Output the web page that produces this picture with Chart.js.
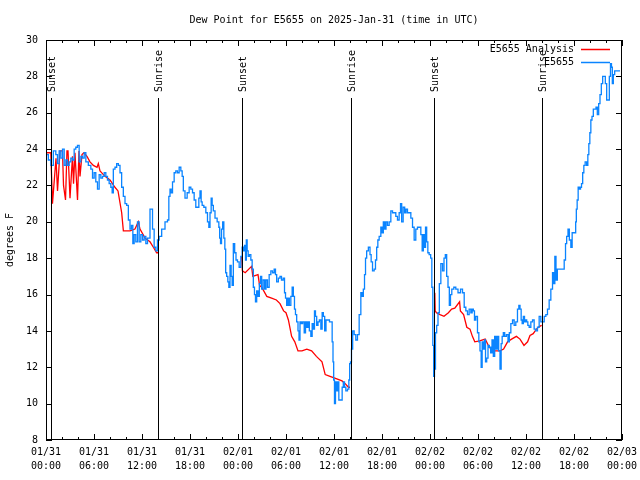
<!DOCTYPE html>
<html>
<head>
<meta charset="utf-8">
<script src="https://cdn.jsdelivr.net/npm/chart.js@4"></script>
<style>
  html, body { margin: 0; padding: 0; background: #fff; }
</style>
</head>
<body>
<canvas id="dew" width="640" height="480"></canvas>
<script>
// hours since 01/31 00:00 UTC
const obsHours = [
  0.08,0.5,0.71,1.12,1.33,1.54,1.75,1.96,2.17,2.38,2.58,2.79,3.0,3.21,3.42,3.62,3.83,4.04,4.25,4.46,4.67,4.88,5.08,5.5,5.71,5.92,
  6.12,6.33,6.54,6.75,6.96,7.17,7.38,7.58,7.79,8.0,8.21,8.33,8.5,8.75,8.92,9.17,9.33,9.58,9.75,10.0,10.17,10.42,10.58,10.79,10.92,
  11.12,11.33,11.54,11.75,11.96,12.17,12.38,12.58,12.79,13.21,13.42,13.62,13.83,14.04,14.25,14.67,15.08,15.29,15.42,15.58,15.71,
  15.92,16.12,16.33,16.54,16.75,16.96,17.08,17.25,17.5,17.79,18.0,18.21,18.42,18.62,18.83,19.04,19.17,19.33,19.46,19.58,19.88,
  20.08,20.29,20.42,20.58,20.71,20.83,21.0,21.25,21.54,21.67,21.75,21.88,22.0,22.17,22.29,22.42,22.5,22.67,22.79,22.92,23.08,
  23.21,23.33,23.5,23.67,23.83,24.04,24.25,24.46,24.58,24.75,24.88,25.0,25.08,25.21,25.33,25.5,25.71,25.83,26.0,26.12,26.25,
  26.42,26.58,26.75,26.88,27.04,27.25,27.42,27.58,27.79,28.0,28.21,28.42,28.62,28.75,28.92,29.17,29.33,29.54,29.75,29.88,30.0,
  30.17,30.33,30.5,30.71,30.83,31.0,31.12,31.25,31.42,31.58,31.67,31.83,32.0,32.17,32.38,32.5,32.67,32.83,33.0,33.21,33.33,33.5,
  33.62,33.75,33.92,34.08,34.25,34.46,34.58,34.75,34.92,35.08,35.29,35.58,35.71,35.83,35.92,36.0,36.12,36.25,36.42,36.54,36.67,
  36.96,37.08,37.25,37.38,37.58,37.79,37.92,38.0,38.12,38.25,38.42,38.62,38.83,39.04,39.25,39.46,39.58,39.75,39.88,40.0,40.17,
  40.42,40.58,40.71,40.92,41.12,41.25,41.42,41.54,41.75,41.96,42.08,42.25,42.42,42.58,42.79,43.0,43.21,43.42,43.62,43.83,44.04,
  44.25,44.38,44.54,44.75,44.92,45.08,45.29,45.5,45.71,45.92,46.12,46.33,46.54,46.75,46.96,47.08,47.25,47.38,47.5,47.67,47.79,
  48.0,48.17,48.29,48.42,48.5,48.62,48.75,48.92,49.08,49.25,49.46,49.67,49.83,50.0,50.17,50.33,50.5,50.62,50.83,51.12,51.33,
  51.67,51.96,52.17,52.38,52.58,52.79,53.0,53.21,53.33,53.5,53.62,53.83,54.04,54.17,54.33,54.46,54.58,54.75,54.88,55.0,55.17,
  55.33,55.5,55.67,55.83,56.0,56.17,56.33,56.5,56.67,56.83,56.96,57.08,57.25,57.42,57.67,57.83,58.0,58.21,58.42,58.62,58.83,
  59.04,59.17,59.33,59.46,59.58,59.75,59.88,60.0,60.17,60.29,60.5,60.71,60.92,61.12,61.33,61.54,61.75,61.96,62.17,62.38,62.58,
  62.79,63.0,63.21,63.42,63.54,63.67,63.83,64.0,64.17,64.46,64.67,64.88,65.0,65.17,65.33,65.5,65.71,65.83,66.17,66.25,66.33,
  66.46,66.58,66.75,66.88,67.0,67.17,67.29,67.5,67.67,67.79,67.92,68.04,68.17,68.33,68.5,68.67,68.83,69.0,69.17,69.33,69.5,
  69.67,69.83,70.0,70.17,70.33,70.5,70.62,70.75,70.83,71.0,71.17,71.42,71.75
];
const obsDew = [
  23.7,23.4,23.1,23.9,23.7,23.2,23.9,23.5,24.0,23.1,23.4,23.1,23.3,23.5,23.4,24.0,24.1,24.2,23.3,23.6,23.5,23.8,23.3,23.1,22.9,22.4,
  22.7,22.2,21.8,22.6,22.4,22.5,22.7,22.5,22.3,22.1,21.9,21.6,22.9,23.0,23.2,23.1,22.7,21.9,21.4,21.0,20.9,20.1,19.6,19.8,18.8,
  19.3,18.9,20.0,18.9,19.3,19.0,19.2,18.8,19.1,20.7,19.6,18.6,18.4,19.0,19.2,19.6,20.0,20.1,21.4,21.8,21.6,
  22.2,22.7,22.8,22.7,23.0,22.8,22.5,21.7,21.3,21.6,21.9,21.8,21.6,21.2,20.8,20.8,21.3,21.7,21.1,20.9,20.8,
  20.5,20.0,19.7,20.5,21.3,20.9,20.6,20.2,20.0,19.7,19.1,18.8,19.6,20.0,19.1,18.5,17.2,17.0,16.7,16.4,17.6,
  17.0,16.5,18.8,18.3,17.9,17.8,17.5,18.1,18.6,18.4,18.7,17.9,19.0,18.4,18.1,18.2,17.9,17.4,16.4,16.0,15.6,
  16.2,15.9,16.6,17.0,16.3,16.8,16.3,16.8,16.4,17.1,17.3,17.2,17.4,17.1,16.7,16.9,17.0,16.8,16.9,16.1,15.8,
  15.4,15.8,15.4,15.9,16.4,15.9,15.2,14.9,14.5,14.0,13.5,14.5,14.4,14.5,13.9,14.5,14.2,14.5,14.0,13.7,14.4,14.1,
  15.1,14.8,14.3,14.5,14.6,14.1,15.0,14.8,14.0,14.6,14.6,14.5,14.5,13.4,12.3,11.3,10.0,11.2,10.7,11.2,10.2,
  10.2,10.9,11.2,10.9,10.7,10.8,11.3,12.2,12.3,13.0,14.0,13.8,13.5,13.8,14.9,16.1,15.9,16.3,17.1,18.0,18.4,
  18.6,18.2,17.8,17.3,17.4,17.9,18.6,19.0,19.2,19.7,19.4,20.0,19.6,20.0,19.8,20.0,20.6,20.5,20.5,20.3,20.1,
  20.5,21.0,20.0,20.8,20.5,20.7,20.5,20.5,20.2,19.7,19.0,19.6,19.7,19.7,19.3,18.4,19.3,18.6,19.7,18.9,18.3,
  18.2,18.0,16.4,13.2,11.5,11.9,13.9,14.3,15.0,16.6,17.7,17.3,18.0,18.2,17.0,16.4,15.4,16.0,16.3,16.4,16.3,
  16.1,16.3,16.1,15.3,15.1,14.9,15.2,15.0,15.2,15.1,14.6,14.8,13.9,13.4,12.9,12.0,13.4,13.0,13.5,12.3,12.5,
  13.2,13.1,12.8,13.5,12.6,13.7,13.0,13.7,12.9,11.9,13.3,13.7,13.9,13.7,13.8,13.4,13.9,14.4,14.6,14.3,14.5,
  15.2,15.4,15.2,14.6,14.4,14.8,14.5,14.6,14.5,14.3,14.2,14.5,14.6,14.1,14.0,14.2,14.8,14.5,14.5,14.8,14.9,
  15.2,15.7,16.3,17.2,16.6,18.1,16.8,17.4,17.4,17.4,17.4,17.9,18.8,19.2,19.6,19.0,18.6,19.4,19.4,20.0,20.7,
  21.2,21.9,21.8,21.9,22.1,22.7,23.1,23.3,23.1,23.7,24.3,24.9,25.6,25.8,26.2,26.2,26.3,25.9,26.5,27.0,27.6,
  28.0,28.0,27.6,26.7,26.7,28.0,28.7,28.5,27.6,28.1,28.3,28.3,28.3
];

// analysis only runs overnight; null breaks the line between nights
const anaHours = [
  0.1,0.6,0.81,1.25,1.44,1.75,2.06,2.19,2.44,2.62,2.75,3.0,3.31,3.44,3.62,3.94,4.12,4.25,4.5,4.75,5.12,5.5,5.92,6.38,6.54,6.75,
  7.38,8.0,8.62,9.0,9.46,9.67,10.5,11.12,11.54,11.75,12.38,13.0,13.42,13.83,14.0,14.5,
  24.45,24.55,24.9,25.7,25.85,26.5,26.7,26.96,27.6,28.2,28.8,29.25,29.7,30.0,30.3,30.7,31.1,31.5,32.0,32.6,33.2,33.8,34.5,34.9,
  35.5,36.1,37.0,37.4,37.8,38.0,38.5,
  48.6,48.65,48.8,49.25,49.75,50.3,50.7,51.1,51.7,51.8,52.2,52.6,53.0,53.3,53.6,54.2,54.9,55.3,55.6,56.1,56.75,57.2,57.7,58.2,
  58.8,59.25,59.75,60.2,60.5,60.9,61.3,61.7,61.96
];
const anaDew = [
  23.8,23.8,21.0,23.5,21.7,23.9,23.9,22.0,21.2,23.9,23.9,21.3,23.6,22.1,23.8,21.2,23.9,22.5,23.7,23.8,23.6,23.3,23.1,23.0,23.2,22.8,
  22.5,22.3,21.9,21.7,20.5,19.5,19.5,19.6,20.0,19.6,19.1,18.9,18.6,18.3,18.3,null,
  18.1,17.3,17.2,17.55,17.0,17.1,16.5,16.4,15.9,15.8,15.7,15.5,15.1,15.0,14.6,13.7,13.4,12.9,12.9,13.0,12.9,12.6,12.3,11.6,
  11.5,11.4,11.25,11.1,10.9,10.9,null,
  16.1,15.1,15.0,14.9,14.8,15.0,15.2,15.25,15.6,15.1,14.9,14.2,14.1,13.7,13.4,13.45,13.55,13.2,13.0,12.9,12.9,13.0,13.4,13.55,
  13.7,13.55,13.2,13.4,13.75,13.85,14.1,14.25,14.3
];

const sunHours = [0.62, 14.0, 24.54, 38.08, 48.54, 62.04];
const sunNames = ['Sunset', 'Sunrise', 'Sunset', 'Sunrise', 'Sunset', 'Sunrise'];

const tickLabels = [
  ['01/31','00:00'], ['01/31','06:00'], ['01/31','12:00'], ['01/31','18:00'],
  ['02/01','00:00'], ['02/01','06:00'], ['02/01','12:00'], ['02/01','18:00'],
  ['02/02','00:00'], ['02/02','06:00'], ['02/02','12:00'], ['02/02','18:00'],
  ['02/03','00:00']
];

const FONT = "'DejaVu Sans Mono', monospace";
const RED = '#ff0000';
const BLUE = '#0a84ff';

const obsPts = obsHours.map((h, i) => ({ x: h, y: obsDew[i] }));
const anaPts = anaHours.map((h, i) => ({ x: h, y: anaDew[i] }));

// gnuplot look: box, inward ticks, sun lines, legend, title
const framePlugin = {
  id: 'frame',
  afterDatasetsDraw(chart) {
    const { ctx, chartArea: a } = chart;
    const x = chart.scales.x, y = chart.scales.y;
    ctx.save();
    ctx.strokeStyle = '#000';
    ctx.fillStyle = '#000';
    ctx.lineWidth = 1;
    ctx.font = '10px ' + FONT;

    sunHours.forEach((h, i) => {
      const px = Math.round(x.getPixelForValue(h)) + 0.5;
      ctx.beginPath();
      ctx.moveTo(px, a.bottom);
      ctx.lineTo(px, a.top + 58);
      ctx.stroke();
      ctx.save();
      ctx.translate(px + 1, a.top + 52);
      ctx.rotate(-Math.PI / 2);
      ctx.textAlign = 'left';
      ctx.textBaseline = 'middle';
      ctx.fillText(sunNames[i], 0, 0);
      ctx.restore();
    });

    ctx.strokeRect(a.left + 0.5, a.top + 0.5, a.width - 1, a.height - 1);

    ctx.beginPath();
    for (let h = 0; h <= 72; h += 2) {
      const px = Math.round(x.getPixelForValue(h)) + 0.5;
      const len = h % 6 === 0 ? 6 : 3;
      ctx.moveTo(px, a.bottom); ctx.lineTo(px, a.bottom - len);
      ctx.moveTo(px, a.top); ctx.lineTo(px, a.top + len);
    }
    for (let v = 8; v <= 30; v += 2) {
      const py = Math.round(y.getPixelForValue(v)) + 0.5;
      ctx.moveTo(a.left, py); ctx.lineTo(a.left + 6, py);
      ctx.moveTo(a.right, py); ctx.lineTo(a.right - 6, py);
    }
    ctx.stroke();

    const items = [chart.data.datasets[1], chart.data.datasets[0]];
    items.forEach((ds, i) => {
      const ly = a.top + 9 + i * 13;
      ctx.textAlign = 'right';
      ctx.textBaseline = 'middle';
      ctx.fillStyle = '#000';
      ctx.fillText(ds.label, a.right - 48, ly);
      ctx.strokeStyle = ds.borderColor;
      ctx.lineWidth = 1.5;
      ctx.beginPath();
      ctx.moveTo(a.right - 41, ly + 0.5);
      ctx.lineTo(a.right - 12, ly + 0.5);
      ctx.stroke();
    });

    ctx.fillStyle = '#000';
    ctx.textAlign = 'center';
    ctx.textBaseline = 'middle';
    ctx.fillText('Dew Point for E5655 on 2025-Jan-31 (time in UTC)', (a.left + a.right) / 2, 20);
    ctx.restore();
  }
};

new Chart(document.getElementById('dew').getContext('2d'), {
  type: 'line',
  data: {
    datasets: [
      { label: 'E5655', data: obsPts, borderColor: BLUE, borderWidth: 1.3,
        pointRadius: 0, stepped: 'middle' },
      { label: 'E5655 Analysis', data: anaPts, borderColor: RED, borderWidth: 1.3,
        pointRadius: 0, spanGaps: false }
    ]
  },
  options: {
    responsive: false,
    animation: false,
    layout: { padding: { top: 40, right: 18, left: 0, bottom: 0 } },
    plugins: { legend: { display: false }, title: { display: false }, tooltip: { enabled: false } },
    scales: {
      x: {
        type: 'linear', min: 0, max: 72,
        grid: { display: false, drawTicks: false },
        border: { display: false },
        ticks: {
          stepSize: 6, autoSkip: false, maxRotation: 0, padding: 5, color: '#000',
          font: { family: FONT, size: 10, lineHeight: 1.4 },
          callback: v => tickLabels[Math.round(v / 6)]
        },
        afterFit: s => { s.height = 40; s.paddingLeft = 0; s.paddingRight = 0; }
      },
      y: {
        min: 8, max: 30,
        grid: { display: false, drawTicks: false },
        border: { display: false },
        ticks: { stepSize: 2, padding: 8, color: '#000', font: { family: FONT, size: 10 } },
        title: { display: true, text: 'degrees F', color: '#000',
                 font: { family: FONT, size: 10 }, padding: { top: 4, bottom: 0 } },
        afterFit: s => { s.width = 46; s.paddingTop = 0; s.paddingBottom = 0; }
      }
    }
  },
  plugins: [framePlugin]
});
</script>
</body>
</html>
